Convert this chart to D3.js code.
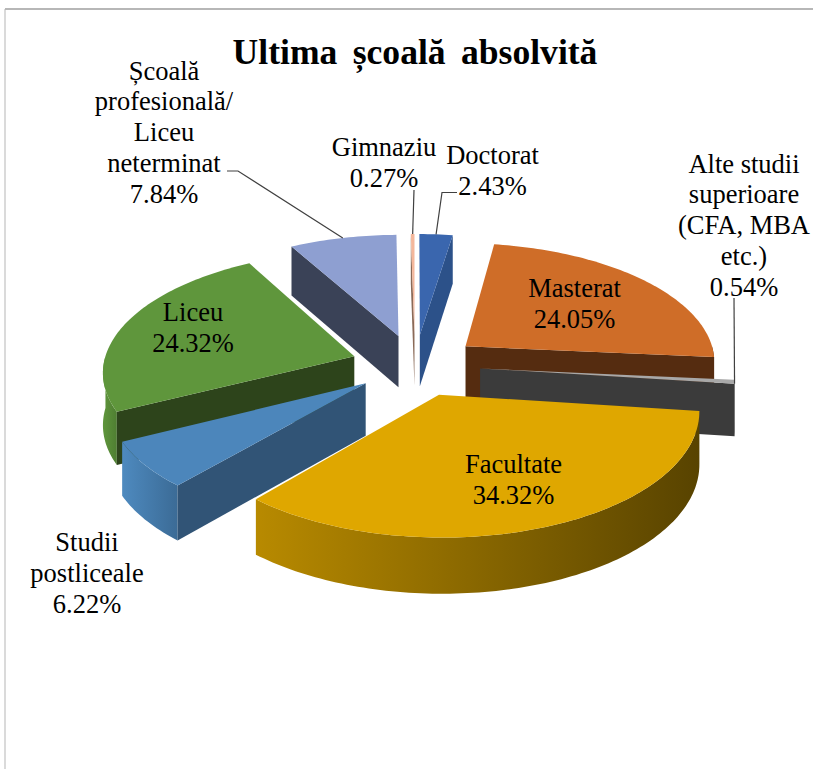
<!DOCTYPE html>
<html>
<head>
<meta charset="utf-8">
<script src="https://cdnjs.cloudflare.com/ajax/libs/d3/7.8.5/d3.min.js"></script>
<style>
  html, body { margin: 0; padding: 0; background: #fff; }
  svg { display: block; }
  text { font-family: "Liberation Serif", "Times New Roman", serif; fill: #000; }
</style>
</head>
<body>
<svg id="chart" width="813" height="769"></svg>
<script>
// Survey answers, clockwise from twelve o'clock
const categories = ["Doctorat", "Masterat", "Alte studii superioare (CFA, MBA etc.)", "Facultate",
  "Studii postliceale", "Liceu", "Școală profesională/ Liceu neterminat", "Gimnaziu"];
const shares = [2.43, 24.05, 0.54, 34.32, 6.22, 24.32, 7.84, 0.27];
const chartTitle = "Ultima școală absolvită";

// Face colours for each slice: top, cut wall, rim start, rim end
const topColors  = ["#3A66AE", "#CF6D28", "#A8A8A8", "#DFA700", "#4C86BB", "#5F963C", "#8E9FD1", "#F4B79B"];
const wallColors = ["#2C5189", "#552C10", "#3B3B3B", "#5E4700", "#315476", "#2D441B", "#3A4257", "#8A6A58"];
const rimFrom    = ["#2C5189", "#552C10", "#3B3B3B", "#B88A00", "#4E8ABF", "#5F963C", "#3A4257", "#8A6A58"];
const rimTo      = ["#2C5189", "#552C10", "#3B3B3B", "#584300", "#3B6B96", "#4F7E32", "#3A4257", "#8A6A58"];

// Label text, line by line, with the centre x and first baseline of each block
const labelLines = [
  ["Doctorat", "2.43%"],
  ["Masterat", "24.05%"],
  ["Alte studii", "superioare", "(CFA, MBA", "etc.)", "0.54%"],
  ["Facultate", "34.32%"],
  ["Studii", "postliceale", "6.22%"],
  ["Liceu", "24.32%"],
  ["Școală", "profesională/", "Liceu", "neterminat", "7.84%"],
  ["Gimnaziu", "0.27%"]
];
const labelX = [492.5, 574.5, 744, 513.5, 87, 193, 164, 384];
const labelY = [164, 297, 172.5, 473, 551, 321, 79.5, 156];
const lineGap = 30.9;

// Projection of the tilted pie: horizontal and vertical radii, perspective, thickness
const cx = 415, cy = 365;
const radiusX = 251, radiusY = 119, perspective = 0.115, thickness = 52;
// How far each slice is pulled out of the pie, as a fraction of the radius
const explodeBy = [0.26, 0.26, 0.26, 0.26, 0.245, 0.255, 0.26, 0.26];

function project(px, py, down) {
  const s = 1 / (1 + perspective * py);
  return [cx + radiusX * px * s, cy - radiusY * py * s + (down ? thickness * Math.sqrt(s) : 0)];
}

const pie = d3.pie().sort(null).startAngle(0).endAngle(2 * Math.PI);
const slices = pie(shares).map((d, i) => {
  const mid = (d.startAngle + d.endAngle) / 2;
  return { i, a0: d.startAngle, a1: d.endAngle, ox: explodeBy[i] * Math.sin(mid), oy: explodeBy[i] * Math.cos(mid) };
});

const rim = (s, a, down) => project(s.ox + Math.sin(a), s.oy + Math.cos(a), down);
const apex = (s, down) => project(s.ox, s.oy, down);
const sweep = (a0, a1) => {
  const n = Math.max(2, Math.ceil((a1 - a0) / 0.02));
  return d3.range(n + 1).map(k => a0 + (a1 - a0) * k / n);
};
const line = d3.line();

const svg = d3.select("#chart");
const defs = svg.append("defs");

// Frame of the chart area
svg.append("line").attr("x1", 5).attr("y1", 9).attr("x2", 813).attr("y2", 9)
  .attr("stroke", "#9f9f9f").attr("stroke-width", 1.6);
svg.append("line").attr("x1", 5).attr("y1", 9).attr("x2", 5).attr("y2", 769)
  .attr("stroke", "#b5b5b5").attr("stroke-width", 1);

svg.append("text").attr("x", 415).attr("y", 64).attr("text-anchor", "middle")
  .attr("font-size", 35.6).attr("font-weight", "bold").attr("word-spacing", 6.5)
  .text(chartTitle);

// Paint from the far slices to the near ones
const paintOrder = [6, 0, 7, 1, 2, 5, 4, 3];
const gPie = svg.append("g");

paintOrder.forEach(idx => {
  const s = slices[idx];
  const g = gPie.append("g").attr("class", "slice");

  // Rim wall, only where it faces the viewer
  const lo = Math.max(s.a0, Math.PI / 2), hi = Math.min(s.a1, 3 * Math.PI / 2);
  if (hi > lo) {
    const angles = sweep(lo, hi);
    const poly = angles.map(a => rim(s, a, false)).concat(angles.slice().reverse().map(a => rim(s, a, true)));
    const xs = poly.map(p => p[0]);
    const gid = "rim" + idx;
    const grad = defs.append("linearGradient").attr("id", gid).attr("gradientUnits", "userSpaceOnUse")
      .attr("x1", d3.min(xs)).attr("x2", d3.max(xs)).attr("y1", 0).attr("y2", 0);
    grad.append("stop").attr("offset", 0).attr("stop-color", rimFrom[idx]);
    grad.append("stop").attr("offset", 1).attr("stop-color", rimTo[idx]);
    g.append("path").attr("d", line(poly) + "Z").attr("fill", `url(#${gid})`);
  }

  // Cut walls that face the viewer
  const cut = a => [apex(s, false), rim(s, a, false), rim(s, a, true), apex(s, true)];
  if (Math.sin(s.a0) < 0) g.append("path").attr("d", line(cut(s.a0)) + "Z").attr("fill", wallColors[idx]);
  if (Math.sin(s.a1) > 0) g.append("path").attr("d", line(cut(s.a1)) + "Z").attr("fill", wallColors[idx]);

  // Top face
  const top = [apex(s, false)].concat(sweep(s.a0, s.a1).map(a => rim(s, a, false)));
  g.append("path").attr("d", line(top) + "Z").attr("fill", topColors[idx]);
});

// Leader lines: each runs from its label to the rim of the slice it names
const leader = d3.line();
const leaders = [
  { i: 6, from: [[227, 171], [238, 171]], at: 0.5 },
  { i: 7, from: [[414, 190]], at: 0.5 },
  { i: 0, from: [[457, 192.5], [442, 192.5]], at: 0.5 },
  { i: 2, from: [[734, 298]], at: 1 }
];
leaders.forEach(l => {
  const s = slices[l.i];
  const end = rim(s, s.a0 + (s.a1 - s.a0) * l.at, false);
  svg.append("path").attr("d", leader(l.from.concat([end])))
    .attr("fill", "none").attr("stroke", "#404040").attr("stroke-width", 1.2);
});

// Data labels
labelLines.forEach((lines, i) => {
  const t = svg.append("text").attr("text-anchor", "middle").attr("font-size", 26.5);
  lines.forEach((txt, k) => {
    t.append("tspan").attr("x", labelX[i]).attr("y", labelY[i] + k * lineGap).text(txt);
  });
});
</script>
</body>
</html>
